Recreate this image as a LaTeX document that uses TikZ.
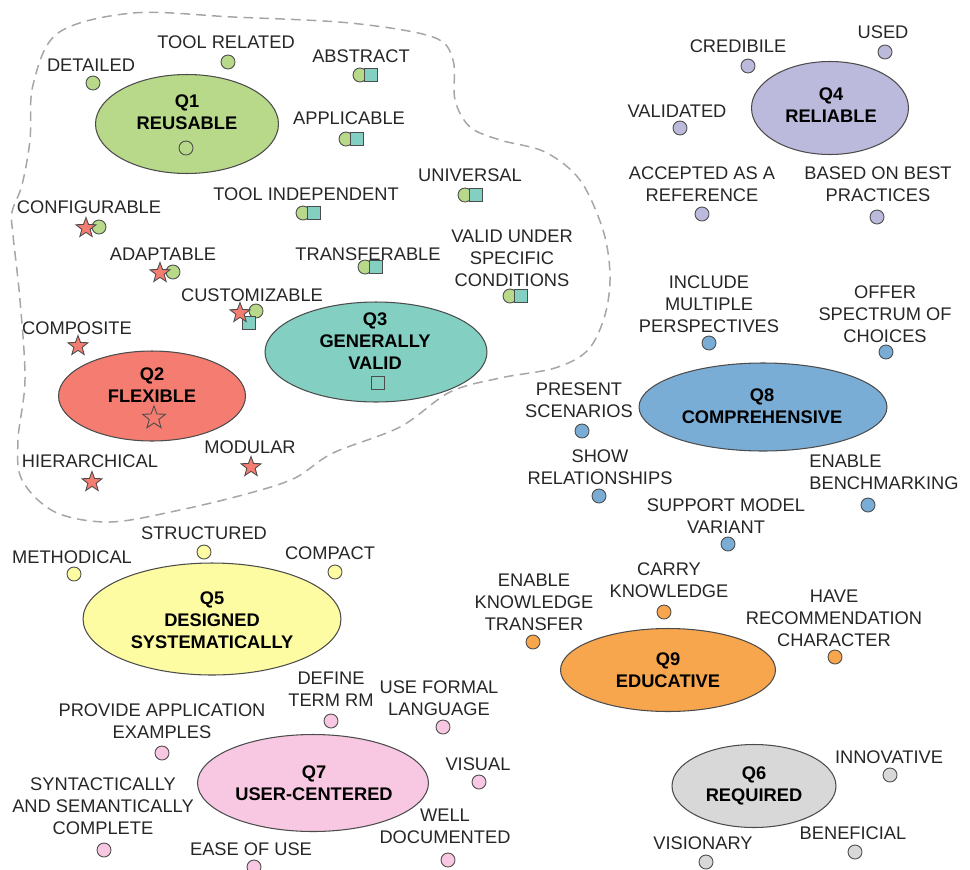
\documentclass[tikz,border=0pt]{standalone}
\usepackage{fontspec}
\setmainfont{Liberation Sans}
\usetikzlibrary{shapes.geometric}
\definecolor{qgreen}{RGB}{183,217,137}
\definecolor{qred}{RGB}{244,124,112}
\definecolor{qteal}{RGB}{131,208,195}
\definecolor{qlav}{RGB}{188,186,220}
\definecolor{qyel}{RGB}{253,252,163}
\definecolor{qgray}{RGB}{216,216,216}
\definecolor{qpink}{RGB}{248,200,226}
\definecolor{qblue}{RGB}{122,173,214}
\definecolor{qorange}{RGB}{247,166,77}
\begin{document}
\begin{tikzpicture}[x=0.02cm,y=-0.02cm,
  every node/.style={font=\fontsize{10.4}{12.5}\selectfont,text=black!85},
  lbl/.style={align=center,inner sep=0pt},
  qell/.style={ellipse,draw=black!70,line width=0.6pt,inner sep=0pt},
  qtxt/.style={align=center,inner sep=0pt,text=black,font=\fontsize{10.4}{12.5}\selectfont\bfseries},
  dot/.style={circle,draw=black!70,line width=0.5pt,minimum size=0.28cm,inner sep=0pt},
  sq/.style={rectangle,draw=black!70,fill=qteal,line width=0.5pt,minimum size=0.26cm,inner sep=0pt},
  st/.style={star,star points=5,star point ratio=2.4,draw=black!70,fill=qred,line width=0.5pt,minimum size=0.42cm,inner sep=0pt},
  grp/.style={draw=black!35,line width=0.85pt,dash pattern=on 5.5pt off 3.5pt}]
\useasboundingbox (0,0) rectangle (970,869);
\draw[grp] plot[smooth cycle,tension=0.55] coordinates {(58,33) (133,13) (233,17) (350,23) (433,37) (453,60) (455,100) (470,127) (500,140) (545,152) (580,180) (603,230) (610,275) (605,315) (588,350) (555,368) (500,378) (450,392) (400,427) (333,453) (295,478) (250,493) (180,510) (110,522) (55,512) (22,480) (18,440) (25,380) (20,300) (13,235) (12,212) (22,185) (30,140) (33,85)};
\node[qell,fill=qgreen,minimum width=3.66cm,minimum height=1.98cm] (q1) at (187,124) {};
\node[qell,fill=qred,minimum width=3.74cm,minimum height=1.80cm] (q2) at (152,396) {};
\node[qell,fill=qteal,minimum width=4.44cm,minimum height=2.00cm] (q3) at (376,352) {};
\node[qell,fill=qlav,minimum width=3.14cm,minimum height=1.86cm] (q4) at (830,108) {};
\node[qell,fill=qyel,minimum width=5.16cm,minimum height=2.24cm] (q5) at (212,619) {};
\node[qell,fill=qgray,minimum width=3.28cm,minimum height=1.66cm] (q6) at (754,786) {};
\node[qell,fill=qpink,minimum width=4.62cm,minimum height=1.94cm] (q7) at (313,783) {};
\node[qell,fill=qblue,minimum width=4.96cm,minimum height=1.76cm] (q8) at (763,407) {};
\node[qell,fill=qorange,minimum width=4.30cm,minimum height=1.66cm] (q9) at (668,670) {};
\node[qtxt] (q1t) at (187,112) {Q1\\REUSABLE};
\node[qtxt] (q2t) at (152,385) {Q2\\FLEXIBLE};
\node[qtxt] (q3t) at (375,341) {Q3\\GENERALLY\\VALID};
\node[qtxt] (q4t) at (831,105) {Q4\\RELIABLE};
\node[qtxt] (q5t) at (212,620) {Q5\\DESIGNED\\SYSTEMATICALLY};
\node[qtxt] (q6t) at (754,786) {Q6\\REQUIRED};
\node[qtxt] (q7t) at (314,783) {Q7\\USER-CENTERED};
\node[qtxt] (q8t) at (762,406) {Q8\\COMPREHENSIVE};
\node[qtxt] (q9t) at (668,670) {Q9\\EDUCATIVE};
\node[dot] (q1m) at (186,148) {};
\node[st,fill=none,minimum size=0.48cm] (q2m) at (154,418) {};
\node[sq,fill=none] (q3m) at (378,383) {};
\foreach \n/\lx/\ly/\mx/\my/\t in {a/91/65/93/83/DETAILED,b/226/42/228/62/TOOL RELATED}
  {\node[lbl] (l1\n) at (\lx,\ly) {\t}; \node[dot,fill=qgreen] (d1\n) at (\mx,\my) {};}
\foreach \n/\lx/\ly/\mx/\my/\t in {a/361/56/360/75/ABSTRACT,b/349/118/346/139/APPLICABLE,c/306/194/303/213/TOOL INDEPENDENT,d/470/175/465/195/UNIVERSAL,e/368/254/365/267/TRANSFERABLE,f/512/258/510/296/{VALID UNDER\\SPECIFIC\\CONDITIONS}}
  {\node[lbl] (l13\n) at (\lx,\ly) {\t}; \node[dot,fill=qgreen] (d13\n) at (\mx,\my) {}; \node[sq] (s13\n) at (\mx+11,\my) {};}
\foreach \n/\lx/\ly/\mx/\my/\t in {a/89/207/86/228/CONFIGURABLE,b/163/254/160/273/ADAPTABLE}
  {\node[lbl] (l12\n) at (\lx,\ly) {\t}; \node[dot,fill=qgreen] (d12\n) at (\mx+13,\my-1) {}; \node[st] (s12\n) at (\mx,\my) {};}
\foreach \n/\lx/\ly/\mx/\my/\t in {a/77/328/78/346/COMPOSITE,b/90/461/92/482/HIERARCHICAL,c/250/447/251/467/MODULAR}
  {\node[lbl] (l2\n) at (\lx,\ly) {\t}; \node[st] (s2\n) at (\mx,\my) {};}
\node[lbl] (l123) at (252,295) {CUSTOMIZABLE};
\node[dot,fill=qgreen] (d123) at (256,311) {};
\node[sq] (q123) at (249,323) {};
\node[st] (s123) at (240,313) {};
\foreach \n/\lx/\ly/\mx/\my/\t in {a/738/46/748/66/CREDIBILE,b/883/32/885/52/USED,c/677/111/680/128/VALIDATED,d/702/184/702/214/{ACCEPTED AS A\\REFERENCE},e/878/184/877/217/{BASED ON BEST\\PRACTICES}}
  {\node[lbl] (l4\n) at (\lx,\ly) {\t}; \node[dot,fill=qlav] (d4\n) at (\mx,\my) {};}
\foreach \n/\lx/\ly/\mx/\my/\t in {a/709/304/709/343/{INCLUDE\\MULTIPLE\\PERSPECTIVES},b/885/314/886/352/{OFFER\\SPECTRUM OF\\CHOICES},c/579/400/582/431/{PRESENT\\SCENARIOS},d/600/467/599/496/{SHOW\\RELATIONSHIPS},e/726/516/728/544/{SUPPORT MODEL\\VARIANT}}
  {\node[lbl] (l8\n) at (\lx,\ly) {\t}; \node[dot,fill=qblue] (d8\n) at (\mx,\my) {};}
\node[lbl,align=left] (l8f) at (884,472) {ENABLE\\BENCHMARKING};
\node[dot,fill=qblue] (d8f) at (868,505) {};
\foreach \n/\lx/\ly/\mx/\my/\t in {a/204/533/204/552/STRUCTURED,b/72/557/74/574/METHODICAL,c/330/553/335/572/COMPACT}
  {\node[lbl] (l5\n) at (\lx,\ly) {\t}; \node[dot,fill=qyel] (d5\n) at (\mx,\my) {};}
\foreach \n/\lx/\ly/\mx/\my/\t in {a/331/689/331/721/{DEFINE\\TERM RM},b/439/698/443/727/{USE FORMAL\\LANGUAGE},c/162/721/162/753/{PROVIDE APPLICATION\\EXAMPLES},d/478/764/479/782/VISUAL,e/103/806/104/850/{SYNTACTICALLY\\AND SEMANTICALLY\\COMPLETE},f/251/849/254/867/EASE OF USE,g/445/826/448/860/{WELL\\DOCUMENTED}}
  {\node[lbl] (l7\n) at (\lx,\ly) {\t}; \node[dot,fill=qpink] (d7\n) at (\mx,\my) {};}
\foreach \n/\lx/\ly/\mx/\my/\t in {a/534/602/533/642/{ENABLE\\KNOWLEDGE\\TRANSFER},b/669/580/664/612/{CARRY\\KNOWLEDGE},c/834/618/835/657/{HAVE\\RECOMMENDATION\\CHARACTER}}
  {\node[lbl] (l9\n) at (\lx,\ly) {\t}; \node[dot,fill=qorange] (d9\n) at (\mx,\my) {};}
\foreach \n/\lx/\ly/\mx/\my/\t in {a/889/757/890/775/INNOVATIVE,b/853/833/855/852/BENEFICIAL,c/703/843/706/862/VISIONARY}
  {\node[lbl] (l6\n) at (\lx,\ly) {\t}; \node[dot,fill=qgray] (d6\n) at (\mx,\my) {};}
\end{tikzpicture}
\end{document}
